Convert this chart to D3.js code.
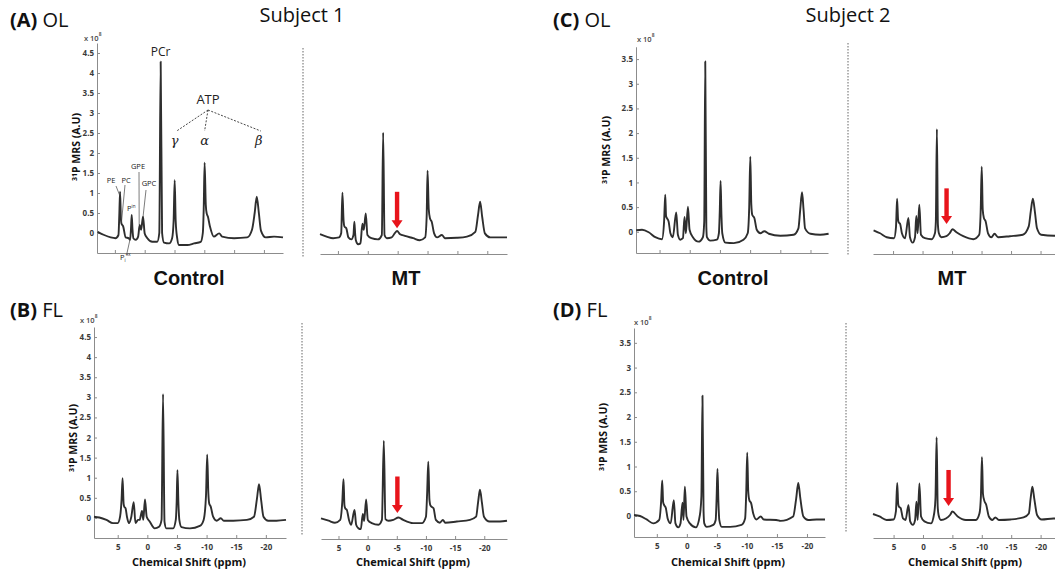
<!DOCTYPE html>
<html>
<head>
<meta charset="utf-8">
<script src="https://cdn.jsdelivr.net/npm/d3@7"></script>
<style>
  body { margin: 0; background: #fff; }
  svg { display: block; }
</style>
</head>
<body>
<svg id="fig" width="1055" height="571"></svg>
<script>
// ---- 31P spectra: [chemical shift (ppm), signal (x10^8 A.U)] ----
const olS1Control = [[7.9,0.03],[6.8,-0.05],[5.7,-0.11],[4.9,-0.13],[4.4,-0.05],[4.25,0.5],[4.13,1.03],[4.0,0.4],[3.9,0.24],[3.6,0.16],[3.2,-0.11],[2.7,-0.13],[2.45,-0.17],[2.3,0.1],[2.18,0.45],[2.05,0.1],[1.9,-0.13],[1.5,-0.17],[1.1,-0.09],[0.84,0.2],[0.6,0.08],[0.28,0.41],[0,-0.01],[-0.45,-0.13],[-1.28,-0.22],[-2.1,-0.22],[-2.45,0],[-2.68,4.28],[-2.92,0],[-3.24,-0.24],[-4.1,-0.26],[-4.6,-0.13],[-4.85,0.3],[-5.03,1.32],[-5.2,0.3],[-5.45,-0.13],[-5.75,-0.3],[-7.15,-0.3],[-8.3,-0.26],[-9.4,-0.22],[-9.75,0],[-9.9,0.6],[-10.05,1.76],[-10.25,0.7],[-10.4,0.49],[-10.6,0.41],[-10.95,0.16],[-11.6,-0.09],[-12.5,-0.01],[-13.0,-0.09],[-15,-0.13],[-17.2,-0.11],[-18.0,0.08],[-18.45,0.5],[-18.8,0.91],[-19.15,0.5],[-19.5,0.06],[-20.3,-0.11],[-21.7,-0.09],[-23.2,-0.11]];

const olS1MT = [[8.0,-0.03],[6.9,-0.09],[5.8,-0.13],[4.8,-0.11],[4.45,0],[4.25,1.01],[4.05,0.3],[3.9,0.16],[3.6,0.12],[3.25,-0.11],[2.75,-0.16],[2.4,-0.05],[2.25,0.28],[2.1,-0.05],[2.0,-0.18],[1.62,-0.28],[1.23,-0.26],[0.9,0.23],[0.67,0.08],[0.34,0.49],[0.06,-0.05],[-0.6,-0.13],[-1.7,-0.16],[-2.35,-0.05],[-2.57,2.51],[-2.8,-0.05],[-3.2,-0.13],[-4.0,-0.11],[-4.5,-0.01],[-4.9,0.05],[-5.4,-0.03],[-6.2,-0.07],[-7.6,-0.13],[-8.7,-0.18],[-9.6,-0.11],[-9.85,0.4],[-10.0,1.56],[-10.2,0.6],[-10.4,0.37],[-10.7,0.28],[-11.1,-0.01],[-11.6,-0.11],[-12.4,-0.05],[-12.9,-0.13],[-14.9,-0.12],[-16.6,-0.09],[-18.0,0.03],[-18.45,0.45],[-18.8,0.78],[-19.15,0.4],[-19.6,-0.01],[-20.5,-0.11],[-22.1,-0.11],[-23.3,-0.11]];

const flS1Control = [[9.0,0.03],[8.1,0.01],[6.9,-0.05],[5.8,-0.13],[5.0,-0.13],[4.6,0.03],[4.35,0.45],[4.18,0.99],[4.0,0.35],[3.9,0.28],[3.67,0.24],[3.44,0.03],[3.1,-0.13],[2.7,0.03],[2.3,0.39],[2.0,-0.13],[1.58,-0.05],[1.3,-0.05],[0.9,0.17],[0.68,-0.05],[0.4,0.46],[0.11,0.03],[-0.4,-0.09],[-1.24,-0.26],[-1.98,-0.22],[-2.4,-0.05],[-2.65,3.08],[-2.9,-0.1],[-3.2,-0.26],[-4.35,-0.26],[-4.8,-0.05],[-4.95,0.4],[-5.08,1.19],[-5.25,0.35],[-5.4,-0.05],[-5.76,-0.23],[-7.2,-0.26],[-8.86,-0.2],[-9.5,-0.05],[-9.9,0.55],[-10.1,1.57],[-10.3,0.6],[-10.44,0.36],[-10.7,0.28],[-11.1,0.03],[-11.7,-0.07],[-12.4,-0.01],[-12.9,-0.07],[-14.5,-0.07],[-16.8,-0.05],[-18.0,0.03],[-18.5,0.48],[-18.85,0.84],[-19.2,0.45],[-19.6,0.03],[-20.4,-0.07],[-21.8,-0.07],[-23.4,-0.05]];

const flS1MT = [[8.0,-0.01],[6.7,-0.07],[5.6,-0.12],[4.7,-0.05],[4.35,0.4],[4.14,0.96],[3.98,0.32],[3.85,0.24],[3.57,0.2],[3.2,-0.05],[2.83,-0.17],[2.25,0.2],[1.97,-0.17],[1.57,-0.26],[1.17,-0.28],[0.83,0.1],[0.6,-0.08],[0.26,0.46],[-0.03,-0.05],[-0.7,-0.13],[-1.86,-0.17],[-2.45,-0.05],[-2.77,1.92],[-3.05,-0.03],[-3.57,-0.07],[-4.4,-0.05],[-5.3,0.01],[-6.1,-0.05],[-7.8,-0.13],[-9.3,-0.13],[-10.0,0.03],[-10.2,0.6],[-10.4,1.4],[-10.6,0.45],[-10.8,0.3],[-11.3,0.24],[-11.7,-0.05],[-12.4,-0.12],[-12.9,-0.05],[-13.3,-0.12],[-15.3,-0.09],[-17.55,-0.05],[-18.6,0.03],[-18.95,0.4],[-19.26,0.7],[-19.6,0.38],[-19.95,0.03],[-20.9,-0.09],[-22.7,-0.09],[-23.9,-0.07]];

const olS2Control = [[8.87,0.03],[7.9,0.04],[6.8,-0.01],[5.7,-0.11],[4.6,-0.15],[4.25,0.2],[4.06,0.75],[3.92,0.32],[3.8,0.28],[3.5,0.21],[3.2,-0.03],[2.8,-0.11],[2.24,0.39],[1.96,-0.06],[1.57,-0.16],[1.13,-0.13],[0.86,0.3],[0.64,-0.03],[0.3,0.51],[0.03,0.04],[-0.52,-0.11],[-1.46,-0.2],[-2.18,-0.11],[-2.4,0.2],[-2.57,3.45],[-2.75,0.1],[-2.85,-0.11],[-3.4,-0.18],[-4.5,-0.16],[-4.83,-0.03],[-4.97,0.4],[-5.11,1.03],[-5.25,0.35],[-5.39,-0.03],[-5.9,-0.22],[-7.3,-0.23],[-8.9,-0.16],[-9.6,-0.03],[-9.85,0.5],[-10.03,1.52],[-10.2,0.55],[-10.36,0.34],[-10.7,0.28],[-11.1,0.04],[-11.7,-0.03],[-12.35,0.01],[-13.1,-0.04],[-15,-0.08],[-17.2,-0.06],[-18.0,0.07],[-18.3,0.45],[-18.6,0.8],[-18.85,0.45],[-19.1,0.07],[-20,-0.04],[-21.6,-0.06],[-23.0,-0.04]];

const olS2MT = [[8.3,0.03],[7.2,-0.03],[6.07,-0.11],[4.83,-0.13],[4.5,0.1],[4.32,0.67],[4.15,0.25],[4.04,0.19],[3.8,0.16],[3.5,-0.03],[2.97,-0.13],[2.4,0.28],[2.13,-0.11],[1.68,-0.22],[1.28,-0.11],[1.06,0.32],[0.83,-0.03],[0.55,0.55],[0.27,-0.06],[-0.4,-0.13],[-1.53,-0.15],[-2.1,-0.03],[-2.25,0.2],[-2.43,2.08],[-2.6,0.15],[-2.77,-0.03],[-3.2,-0.11],[-4.05,-0.09],[-4.6,-0.03],[-5.07,0.05],[-5.75,-0.01],[-6.9,-0.09],[-8.6,-0.15],[-9.6,-0.06],[-9.85,0.4],[-10.03,1.32],[-10.2,0.45],[-10.4,0.28],[-10.7,0.21],[-11.1,-0.03],[-11.67,-0.11],[-12.2,-0.04],[-12.8,-0.11],[-14.8,-0.09],[-17.0,-0.06],[-18.0,0.11],[-18.35,0.42],[-18.7,0.67],[-19.05,0.4],[-19.4,0.07],[-20.1,-0.06],[-22.3,-0.08],[-23.3,-0.07]];

const flS2Control = [[8.8,0.02],[7.8,0],[6.7,-0.07],[5.6,-0.15],[4.6,-0.08],[4.28,0.3],[4.1,0.72],[3.95,0.28],[3.78,0.22],[3.5,0.16],[3.2,-0.05],[2.7,-0.15],[2.17,0.32],[1.9,-0.15],[1.44,-0.23],[1.06,-0.15],[0.72,0.27],[0.56,-0.08],[0.33,0.59],[0.06,-0.01],[-0.5,-0.15],[-1.5,-0.23],[-2.17,0.02],[-2.42,0.4],[-2.6,2.43],[-2.78,0.1],[-2.9,-0.15],[-3.3,-0.22],[-4.4,-0.18],[-4.8,-0.08],[-4.95,0.35],[-5.1,0.95],[-5.25,0.3],[-5.4,-0.08],[-5.8,-0.22],[-7.2,-0.22],[-9.1,-0.18],[-9.7,-0.05],[-9.88,0.45],[-10.05,1.28],[-10.22,0.5],[-10.4,0.32],[-10.7,0.26],[-11.05,0.05],[-11.6,-0.07],[-12.3,-0.01],[-12.8,-0.07],[-14.9,-0.08],[-15.6,-0.1],[-17.7,-0.01],[-18.2,0.35],[-18.55,0.67],[-18.9,0.35],[-19.4,-0.01],[-20.2,-0.08],[-21.6,-0.07],[-23.0,-0.07]];

const flS2MT = [[8.5,0.04],[7.4,-0.01],[6.2,-0.08],[5.0,-0.07],[4.6,0.1],[4.38,0.67],[4.22,0.25],[4.1,0.19],[3.8,0.16],[3.4,-0.05],[2.97,-0.08],[2.47,0.22],[2.18,-0.11],[1.73,-0.18],[1.34,-0.08],[1.11,0.29],[0.9,-0.08],[0.61,0.66],[0.33,-0.01],[-0.24,-0.11],[-1.36,-0.15],[-1.9,0.05],[-2.12,0.35],[-2.32,1.59],[-2.5,0.2],[-2.65,0.02],[-3.05,-0.08],[-3.9,-0.05],[-4.6,0.02],[-5.0,0.09],[-5.9,-0.01],[-7.3,-0.08],[-9.0,-0.08],[-9.6,0.05],[-9.85,0.4],[-10.03,1.19],[-10.2,0.45],[-10.4,0.32],[-10.76,0.22],[-11.2,-0.01],[-11.8,-0.08],[-12.3,-0.03],[-12.9,-0.08],[-14.9,-0.07],[-17.1,-0.03],[-18.0,0.05],[-18.3,0.35],[-18.6,0.59],[-18.95,0.33],[-19.4,0.02],[-20.2,-0.07],[-22.2,-0.05],[-23.3,-0.06]];

// ---- axis ticks ----
const ppmTicks = [5, 0, -5, -10, -15, -20];
const signalTicksS1 = [0, 0.5, 1, 1.5, 2, 2.5, 3, 3.5, 4, 4.5];
const signalTicksS2 = [0, 0.5, 1, 1.5, 2, 2.5, 3, 3.5];

// ---- red arrows marking the γ-ATP position in the MT spectra ----
const arrowPpm = [-4.9, -5.1, -4.07, -4.35];
const arrowTop = [1.03, 1.03, 0.88, 0.93];
const arrowTip = [0.12, 0.12, 0.16, 0.2];

// ---- metabolite labels (panel A) ----
const atpLabels = ["γ", "α", "β"];
const atpPpm = [-5.03, -10.05, -18.8];

const svg = d3.select("#fig");
const ink = "#2e2e2e";
const axisGrey = "#8c8c8c";

// layout of the four panels (pixel boxes + axis domains)
const panels = [
  { tag: "(A)", cond: " OL", tagX: 10, tagY: 27,
    ctrl: { data: olS1Control, xr: [97, 283], xd: [8.0, -23.2] },
    mt:   { data: olS1MT, xr: [320, 507], xd: [8.0, -23.3] },
    yr: [253, 43], yd: [-0.5, 4.75], yTicks: signalTicksS1, bottom: false,
    expo: [84, 41], yTitle: [80, 147], sep: [303, 48, 258], arrow: 0,
    labelsY: 285, ctrlLabelX: 189, mtLabelX: 406 },
  { tag: "(B)", cond: " FL", tagX: 10, tagY: 317,
    ctrl: { data: flS1Control, xr: [94, 286], xd: [9.0, -23.4] },
    mt:   { data: flS1MT, xr: [321, 507], xd: [8.0, -23.9] },
    yr: [538, 327], yd: [-0.5, 4.75], yTicks: signalTicksS1, bottom: true,
    expo: [80, 323], yTitle: [77, 438], sep: [302, 323, 535], arrow: 1,
    ctrlLabelX: 189, mtLabelX: 413 },
  { tag: "(C)", cond: " OL", tagX: 553, tagY: 27,
    ctrl: { data: olS2Control, xr: [636, 828], xd: [8.9, -22.9] },
    mt:   { data: olS2MT, xr: [873, 1060], xd: [8.4, -23.3] },
    yr: [253, 46.75], yd: [-0.43, 3.75], yTicks: signalTicksS2, bottom: false,
    expo: [637, 42], yTitle: [610, 150], sep: [848, 43, 255], arrow: 2,
    labelsY: 285, ctrlLabelX: 733, mtLabelX: 952 },
  { tag: "(D)", cond: " FL", tagX: 553, tagY: 317,
    ctrl: { data: flS2Control, xr: [634, 825], xd: [8.8, -23.0] },
    mt:   { data: flS2MT, xr: [873, 1060], xd: [8.5, -23.3] },
    yr: [537, 328], yd: [-0.425, 3.8], yTicks: signalTicksS2, bottom: true,
    expo: [634, 325], yTitle: [607, 437], sep: [846, 323, 532], arrow: 3,
    ctrlLabelX: 728, mtLabelX: 965 }
];

function drawXAxis(g, x, yPix, withLabels) {
  const ax = d3.axisBottom(x).tickValues(ppmTicks).tickSize(-3).tickSizeOuter(0)
    .tickPadding(6).tickFormat(d => withLabels ? String(d) : "");
  const a = g.append("g").attr("transform", `translate(0,${yPix})`).call(ax);
  a.select(".domain").attr("stroke", axisGrey).attr("stroke-width", 1);
  a.selectAll(".tick line").attr("stroke", axisGrey);
  a.selectAll(".tick text").attr("fill", "#3a3a3a")
    .style("font-family", "'Open Sans', sans-serif").style("font-size", "8px")
    .style("font-weight", "700");
}

function drawSpectrum(g, x, y, data) {
  const line = d3.line().x(d => x(d[0])).y(d => y(d[1])).curve(d3.curveMonotoneX);
  g.append("path").datum(data).attr("d", line)
    .attr("fill", "none").attr("stroke", ink).attr("stroke-width", 1.9)
    .attr("stroke-linejoin", "round");
}

panels.forEach(p => {
  const g = svg.append("g");
  const y = d3.scaleLinear().domain(p.yd).range(p.yr);
  const xc = d3.scaleLinear().domain(p.ctrl.xd).range(p.ctrl.xr);
  const xm = d3.scaleLinear().domain(p.mt.xd).range(p.mt.xr);

  // panel tag
  const t = g.append("text").attr("x", p.tagX).attr("y", p.tagY)
    .style("font-family", "'Open Sans', sans-serif").style("font-size", "20px").attr("fill", "#111");
  t.append("tspan").text(p.tag).style("font-weight", "700");
  t.append("tspan").text(p.cond).style("font-weight", "400");

  // control: y axis
  const ay = d3.axisLeft(y).tickValues(p.yTicks).tickSize(-3).tickSizeOuter(0)
    .tickPadding(3).tickFormat(d => String(d));
  const yaG = g.append("g").attr("transform", `translate(${p.ctrl.xr[0]},0)`).call(ay);
  yaG.select(".domain").attr("stroke", axisGrey);
  yaG.selectAll(".tick line").attr("stroke", axisGrey);
  yaG.selectAll(".tick text").attr("fill", "#3a3a3a")
    .style("font-family", "'Open Sans', sans-serif").style("font-size", "8px").style("font-weight", "700");

  // x 10^8 multiplier
  const ex = g.append("text").attr("x", p.expo[0]).attr("y", p.expo[1])
    .style("font-family", "'Open Sans', sans-serif").style("font-size", "7.5px")
    .style("font-weight", "600").attr("fill", "#444");
  ex.append("tspan").text("x 10");
  ex.append("tspan").text("8").attr("dy", -5).style("font-size", "5px");

  // y title
  const yt = g.append("text")
    .attr("transform", `translate(${p.yTitle[0]},${p.yTitle[1]}) rotate(-90)`)
    .attr("text-anchor", "middle")
    .style("font-family", "'Open Sans', sans-serif").style("font-size", "10.5px")
    .style("font-weight", "700").attr("fill", "#111");
  yt.append("tspan").text("31").style("font-size", "7px").attr("dy", -3);
  yt.append("tspan").text("P MRS (A.U)").attr("dy", 3);

  // x axes
  drawXAxis(g, xc, p.yr[0], p.bottom);
  drawXAxis(g, xm, p.yr[0] + 1, p.bottom);

  // spectra
  drawSpectrum(g, xc, y, p.ctrl.data);
  drawSpectrum(g, xm, y, p.mt.data);

  // dotted separator
  g.append("line").attr("x1", p.sep[0]).attr("x2", p.sep[0])
    .attr("y1", p.sep[1]).attr("y2", p.sep[2])
    .attr("stroke", "#666").attr("stroke-width", 1).attr("stroke-dasharray", "1.5,1.5");

  // red arrow
  const i = p.arrow;
  const ax0 = xm(arrowPpm[i]), yTop = y(arrowTop[i]), yTip = y(arrowTip[i]);
  g.append("rect").attr("x", ax0 - 2.2).attr("y", yTop).attr("width", 4.4)
    .attr("height", (yTip - yTop) - 7).attr("fill", "#e8141b");
  g.append("path")
    .attr("d", `M${ax0 - 5.5},${yTip - 8}L${ax0 + 5.5},${yTip - 8}L${ax0},${yTip}Z`)
    .attr("fill", "#e8141b");

  // bottom labels
  if (p.bottom) {
    [p.ctrlLabelX, p.mtLabelX].forEach(cx => {
      g.append("text").attr("x", cx).attr("y", 566).attr("text-anchor", "middle")
        .style("font-family", "'Open Sans', sans-serif").style("font-size", "11px")
        .style("font-weight", "700").attr("fill", "#111")
        .text("Chemical Shift (ppm)");
    });
  } else {
    g.append("text").attr("x", p.ctrlLabelX).attr("y", p.labelsY)
      .attr("text-anchor", "middle")
      .style("font-family", "'Liberation Sans', Arial, sans-serif").style("font-size", "20px")
      .style("font-weight", "700").attr("fill", "#111").text("Control");
    g.append("text").attr("x", p.mtLabelX).attr("y", p.labelsY)
      .attr("text-anchor", "middle")
      .style("font-family", "'Liberation Sans', Arial, sans-serif").style("font-size", "20px")
      .style("font-weight", "700").attr("fill", "#111").text("MT");
  }

  p.xc = xc; p.y = y;
});

// subject headings
[["Subject 1", 302], ["Subject 2", 848]].forEach(([s, cx]) => {
  svg.append("text").attr("x", cx).attr("y", 22).attr("text-anchor", "middle")
    .style("font-family", "'Open Sans', sans-serif").style("font-size", "20px")
    .attr("fill", "#111").text(s);
});

// ---- metabolite annotation in panel A (control) ----
const pa = panels[0], xa = pa.xc, ya = pa.y;
const ann = svg.append("g").style("font-family", "'Open Sans', sans-serif").attr("fill", "#222");
ann.append("text").attr("x", xa(-2.68)).attr("y", 56).attr("text-anchor", "middle")
  .style("font-size", "12px").text("PCr");
ann.append("text").attr("x", 208).attr("y", 104).attr("text-anchor", "middle")
  .style("font-size", "13px").text("ATP");
atpLabels.forEach((s, k) => {
  const gx = xa(atpPpm[k]);
  ann.append("line").attr("x1", 208).attr("y1", 110)
    .attr("x2", gx + (k === 0 ? 2 : k === 2 ? 4 : 0)).attr("y2", 131)
    .attr("stroke", "#333").attr("stroke-width", 0.9).attr("stroke-dasharray", "2,1.5");
  ann.append("text").attr("x", gx + (k === 2 ? 2 : 0)).attr("y", 145).attr("text-anchor", "middle")
    .style("font-family", "'DejaVu Serif', serif").style("font-style", "italic")
    .style("font-size", "13px").text(s);
});

// small peak labels
const small = [
  ["PE", 111, 183], ["PC", 126, 183], ["GPE", 138, 169], ["GPC", 149, 186]
];
small.forEach(([s, x, y]) => ann.append("text").attr("x", x).attr("y", y)
  .attr("text-anchor", "middle").style("font-size", "7.5px").text(s));
const pin = ann.append("text").attr("x", 127).attr("y", 211).style("font-size", "7.5px");
pin.append("tspan").text("P");
pin.append("tspan").text("in").style("font-size", "4.5px").attr("dy", -3);
const pex = ann.append("text").attr("x", 120).attr("y", 260).style("font-size", "7.5px");
pex.append("tspan").text("P");
pex.append("tspan").text("i").style("font-size", "4.5px").attr("dy", 2);
pex.append("tspan").text("ex").style("font-size", "4.5px").attr("dy", -6);

const leaders = [
  [116, 186, xa(4.13) - 0.5, ya(0.95)],
  [125, 185, xa(3.9), ya(0.26)],
  [139, 172, xa(0.84) - 0.5, ya(0.2)],
  [146, 190, xa(0.28), ya(0.4)],
  [127, 253, xa(2.4), ya(-0.12)]
];
leaders.forEach(([x1, y1, x2, y2]) => ann.append("line")
  .attr("x1", x1).attr("y1", y1).attr("x2", x2).attr("y2", y2)
  .attr("stroke", "#444").attr("stroke-width", 0.7));
</script>
</body>
</html>
